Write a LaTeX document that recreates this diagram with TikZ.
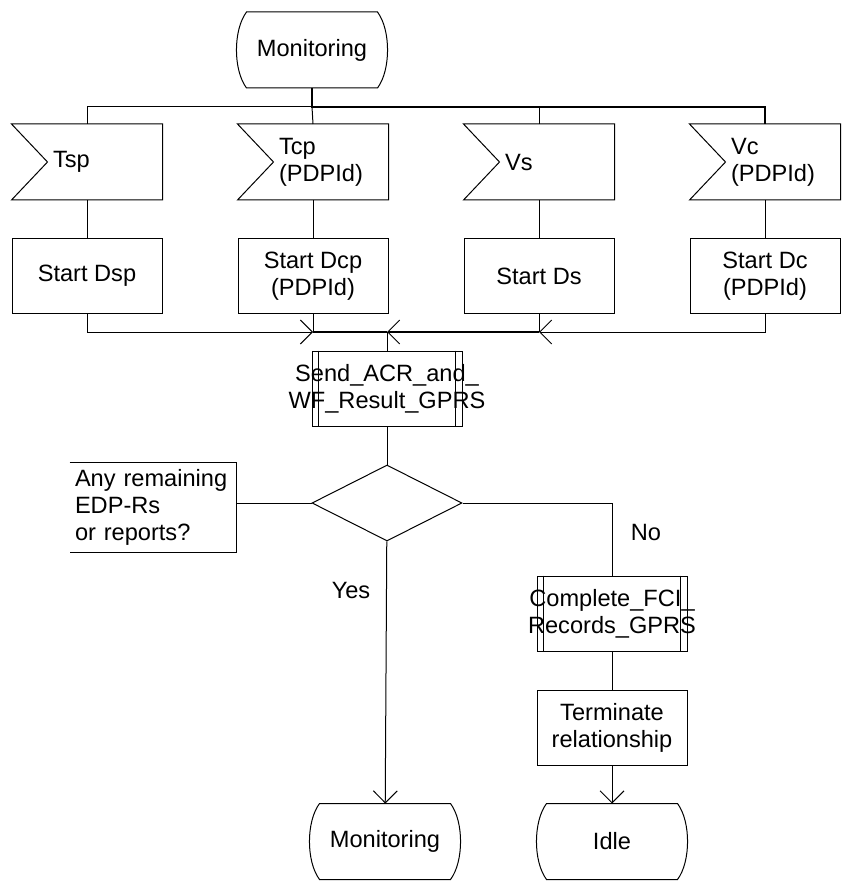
\documentclass[tikz,border=0pt]{standalone}
\usepackage{fontspec}
\setmainfont{Liberation Sans}
\usetikzlibrary{positioning, arrows.meta, shapes.geometric}

\begin{document}
\begin{tikzpicture}[
  x=0.5pt, y=-0.5pt,
  font=\fontsize{11.8}{13.5}\selectfont,
  line width=0.5pt,
  state/.style={minimum width=75pt, minimum height=37.5pt, inner sep=0pt},
  insig/.style={minimum width=75pt, minimum height=37.5pt, inner sep=0pt,
    label={[anchor=west, align=left, xshift=20.5pt, inner sep=0pt]west:#1}},
  task/.style={draw, minimum width=75pt, minimum height=37.5pt, inner sep=0pt, align=center},
  proc/.style={draw, minimum width=75pt, minimum height=37.5pt, inner sep=0pt,
    label={[align=center, inner sep=0pt]center:#1}},
  choice/.style={draw, diamond, minimum width=75pt, minimum height=38pt, inner sep=0pt},
  cmt/.style={minimum height=44.5pt, text width=78pt, inner xsep=2.5pt, align=left},
  lbl/.style={inner sep=0pt},
  arr/.style={-{Straight Barb[length=6pt, width=12pt, line width=0.5pt]}},
  bus/.style={line width=1pt}
]
\useasboundingbox (0,0) rectangle (842,882);

% states and signals
\node[state] (mon1) at (312,50) {Monitoring};
\node[insig={Tsp}] (tsp) at (87,162) {};
\node[insig={Tcp\\(PDPId)}, right=37.5pt of tsp] (tcp) {};
\node[insig={Vs}, right=37.5pt of tcp] (vs) {};
\node[insig={Vc\\(PDPId)}, right=37.5pt of vs] (vc) {};

\node[task, below=19pt of tsp] (dsp) {Start Dsp};
\node[task, below=19pt of tcp] (dcp) {Start Dcp\\(PDPId)};
\node[task, below=19pt of vs] (ds) {Start Ds};
\node[task, below=19pt of vc] (dc) {Start Dc\\(PDPId)};

\node[proc={Send\_ACR\_and\_\\WF\_Result\_GPRS}] (send) at (387,388.5) {};
\node[choice, below=19pt of send] (dec) {};
\node[cmt] (cmt) at (153,507.5) {Any remaining\\EDP-Rs\\or reports?};

\node[proc={Complete\_FCI\_\\Records\_GPRS}] (cfr) at (612,613.5) {};
\node[task, below=19pt of cfr] (term) {Terminate\\relationship};
\node[state, below=19pt of term] (idle) {Idle};
\node[state, left=38pt of idle] (mon2) {Monitoring};

\node[lbl] (no) at (646,532) {No};
\node[lbl] (yes) at (351,590) {Yes};

% outlines
\foreach \n in {mon1, mon2, idle}
  \draw ([xshift=5pt]\n.north west) -- ([xshift=-5pt]\n.north east)
    .. controls ([xshift=1.7pt, yshift=-9pt]\n.north east) and ([xshift=1.7pt, yshift=9pt]\n.south east) .. ([xshift=-5pt]\n.south east)
    -- ([xshift=5pt]\n.south west)
    .. controls ([xshift=-1.7pt, yshift=9pt]\n.south west) and ([xshift=-1.7pt, yshift=-9pt]\n.north west) .. cycle;
\foreach \n in {tsp, tcp, vs, vc}
  \draw (\n.north west) -- ([xshift=18pt]\n.west) -- (\n.south west) -- (\n.south east) -- (\n.north east) -- cycle;
\foreach \n in {send, cfr} {
  \draw ([xshift=3.5pt]\n.north west) -- ([xshift=3.5pt]\n.south west);
  \draw ([xshift=-3.5pt]\n.north east) -- ([xshift=-3.5pt]\n.south east);
}
\draw (cmt.north west) -- (cmt.north east) -- (cmt.south east) -- (cmt.south west);

% connectors
\coordinate (top) at (312,107);
\coordinate (mrg) at (387,332);
\draw (tsp.north) |- (top);
\draw[bus] (mon1.south) -- (top) -| (vc.north);
\draw (tcp.north) -- (top);
\draw (vs.north) -- (vs.north |- top);
\foreach \a/\b in {tsp/dsp, tcp/dcp, vs/ds, vc/dc}
  \draw (\a) -- (\b);

\draw[arr] (dsp.south) |- (dcp.south |- mrg);
\draw (dcp.south) -- (dcp.south |- mrg);
\draw[bus] (dcp.south |- mrg) -- (mrg);
\draw[arr] (dc.south) |- (ds.south |- mrg);
\draw (ds.south) -- (ds.south |- mrg);
\draw[bus, arr] (ds.south |- mrg) -- (mrg);
\draw (mrg) -- (send);

\draw (send) -- (dec);
\draw (cmt.east |- dec.west) -- (dec.west);
\draw (dec.east) -| (cfr.north);
\draw[arr] (dec) -- (mon2);
\draw (cfr) -- (term);
\draw[arr] (term) -- (idle);
\end{tikzpicture}
\end{document}
